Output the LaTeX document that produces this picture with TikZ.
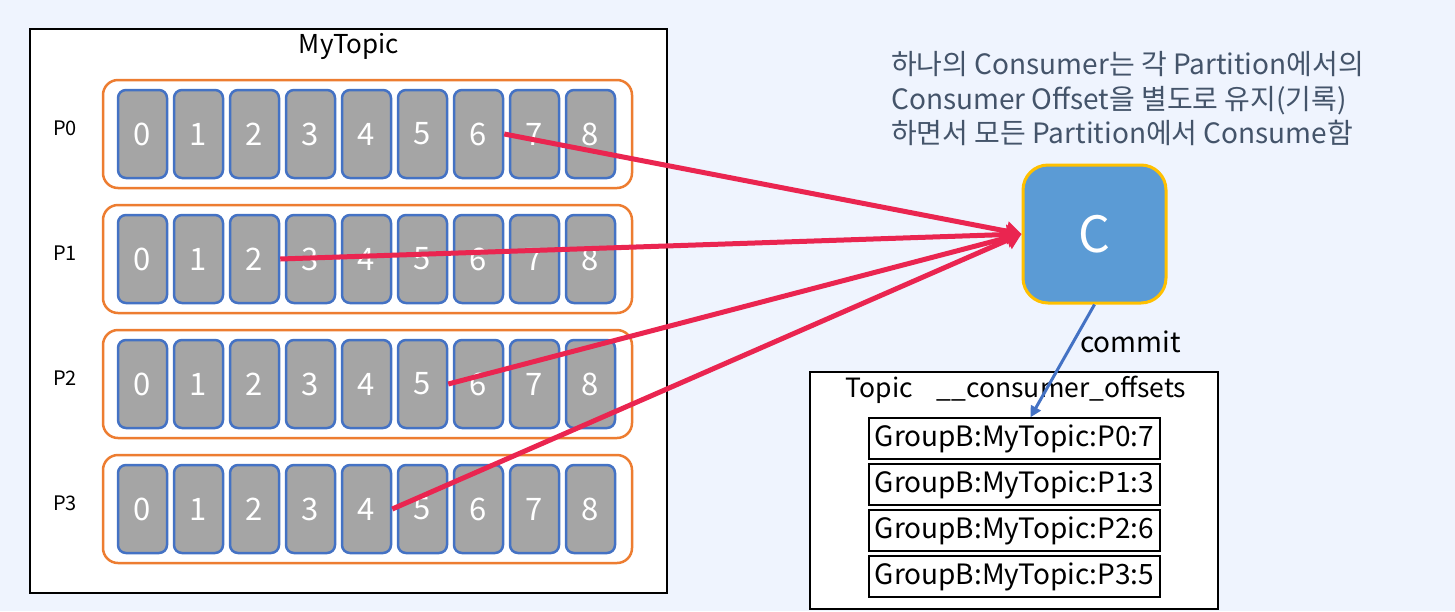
\documentclass[tikz,border=0pt]{standalone}
\usepackage{fontspec}
\setmainfont{Noto Sans CJK KR}
\usepackage{tikz}
\usetikzlibrary{arrows.meta, shapes, positioning}

\definecolor{bgBlue}{HTML}{EFF4FE}
\definecolor{cellGray}{HTML}{A5A5A5}
\definecolor{cellBlue}{HTML}{4472C4}
\definecolor{partOrange}{HTML}{ED7D31}
\definecolor{arrowRed}{HTML}{EA2550}
\definecolor{consBlue}{HTML}{5B9BD5}
\definecolor{consGold}{HTML}{FFC000}
\definecolor{noteSlate}{HTML}{44546A}

\begin{document}
\begin{tikzpicture}[x=1pt, y=-1pt,
  offset/.style={rectangle, rounded corners=8pt, draw=cellBlue, line width=2.5pt,
    fill=cellGray, text=white, minimum width=49pt, minimum height=88pt,
    inner sep=0pt, font=\fontsize{31}{31}\selectfont},
  %
  partition/.style={rectangle, rounded corners=15pt, draw=partOrange,
    line width=2.5pt, fill=white, minimum width=529pt, minimum height=108pt},
  %
  topic/.style={rectangle, draw=black, line width=2.5pt, fill=white},
  %
  record/.style={rectangle, draw=black, line width=1.5pt, fill=white,
    minimum width=291pt, minimum height=41pt, inner sep=0pt,
    font=\fontsize{28}{28}\selectfont},
  %
  consumer/.style={rectangle, rounded corners=25pt, draw=consGold,
    line width=3pt, fill=consBlue, text=white, minimum width=143pt,
    minimum height=138pt, font=\fontsize{50}{50}\selectfont}
  ]

  \fill [bgBlue] (0,0) rectangle (1455,611);
  \useasboundingbox (0,0) rectangle (1455,611);

  \begin{scope}
    %%%%%%%%%%%%%%%%%%%%%%%%%%%%%%% MyTopic
    \node [topic, minimum width=637pt, minimum height=564pt] (myTopic) at (348.5,311) {};
    \node [font=\fontsize{26}{26}\selectfont] (myTopicTitle) at (349,46) {MyTopic};
    \foreach \r in {0,...,3} {
      \node [partition] (part\r) at (367.5,134+125*\r) {};
      \node [font=\fontsize{20}{20}\selectfont] (label\r) at (65,128+125*\r) {P\r};
      \foreach \c in {0,...,8} {
        \node [offset] (p\r-\c) at (142.5+56*\c,134+125*\r) {\c};
      }
    }
    %%%%%%%%%%%%%%%%%%%%%%%%%%%%%%% consumer
    \node [consumer] (cons) at (1094.5,234) {C};
    \node [anchor=west, align=left, text=noteSlate, inner sep=0pt,
      font=\fontsize{28}{34.5}\selectfont] (note) at (891,99) {%
      하나의 Consumer는 각 Partition에서의\\
      Consumer Offset을 별도로 유지(기록)\\
      하면서 모든 Partition에서 Consume함};
    %%%%%%%%%%%%%%%%%%%%%%%%%%%%%%% __consumer_offsets
    \node [topic, line width=2pt, minimum width=408pt, minimum height=237pt] (offTopic) at (1014,490.5) {};
    \node [font=\fontsize{26.5}{26.5}\selectfont] (offTopicTitle) at (1016,390)
      {Topic\hspace{0.9em}\_\_consumer\_offsets};
    \foreach \i/\v in {0/7,1/3,2/6,3/5} {
      \node [record] (rec\i) at (1014.5,438.5+46*\i) {GroupB:MyTopic:P\i:\v};
    }
  \end{scope}

  \begin{scope}
    \foreach \r/\c in {0/6,1/2,2/5,3/4} {
      \draw [arrowRed, line width=5pt, -{Triangle[length=15pt, width=19pt]}]
        (p\r-\c.east) -- (cons.west);
    }
    \draw [cellBlue, line width=3pt, -{Triangle[length=11pt, width=11pt]}]
      (cons.south) -- ([xshift=16pt]rec0.north)
      node [pos=0.33, right=2pt, text=black, font=\fontsize{28}{28}\selectfont] (commitLabel) {commit};
  \end{scope}

\end{tikzpicture}
\end{document}
